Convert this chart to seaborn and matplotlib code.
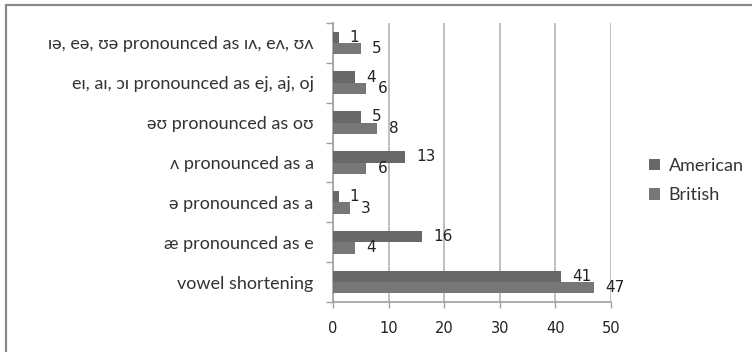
import matplotlib
matplotlib.use("Agg")
import matplotlib.pyplot as plt
import matplotlib.patches as mpatches
import seaborn as sns
import pandas as pd

# Vowel features (top to bottom) and counts per variety
features = [
    "ɪə, eə, ʊə pronounced as ɪʌ, eʌ, ʊʌ",
    "eɪ, aɪ, ɔɪ pronounced as ej, aj, oj",
    "əʊ pronounced as oʊ",
    "ʌ pronounced as a",
    "ə pronounced as a",
    "æ pronounced as e",
    "vowel shortening",
]
american = [1, 4, 5, 13, 1, 16, 41]
british = [5, 6, 8, 6, 3, 4, 47]
series = ["American", "British"]
x_ticks = [0, 10, 20, 30, 40, 50]

df = pd.DataFrame({
    "feature": features * 2,
    "count": american + british,
    "variety": [series[0]] * len(features) + [series[1]] * len(features),
})

sns.set_theme(style="white")
plt.rcParams["font.family"] = ["Lato", "DejaVu Sans"]

fig = plt.figure(figsize=(7.52, 3.52), dpi=100)
ax = fig.add_axes([333 / 752, 1 - 302 / 352, (611 - 333) / 752, (302 - 23) / 352])

palette = {"American": "#686868", "British": "#777777"}
sns.barplot(data=df, y="feature", x="count", hue="variety", order=features,
            hue_order=series, palette=palette, width=0.57, orient="h",
            saturation=1, ax=ax, zorder=3, edgecolor="none")

for cont in ax.containers:
    ax.bar_label(cont, padding=8, fontsize=11, family="DejaVu Sans",
                 color="#222222")

ax.set_xlim(0, 50)
ax.set_ylim(len(features) - 0.5, -0.5)
ax.set_xticks(x_ticks)
ax.set_xticklabels([str(v) for v in x_ticks], family="DejaVu Sans", fontsize=10.5,
                   color="#222222")
ax.set_yticks(range(len(features)))
ax.set_yticklabels(features, fontsize=13, color="#333333")
ax.set_yticks([i - 0.5 for i in range(len(features) + 1)], minor=True)
ax.tick_params(axis="y", which="major", length=0, pad=14)
ax.tick_params(axis="y", which="minor", length=5, color="#a0a0a0", width=1,
               direction="out", left=True)
ax.tick_params(axis="x", which="major", length=4, color="#a0a0a0", width=1,
               direction="out", bottom=True, pad=10)
ax.set_xlabel("")
ax.set_ylabel("")

ax.grid(axis="x", color="#b4b4b4", linewidth=1.2, zorder=0)
ax.grid(axis="y", visible=False)
for side in ["top", "right"]:
    ax.spines[side].set_visible(False)
for side in ["left", "bottom"]:
    ax.spines[side].set_color("#a0a0a0")
    ax.spines[side].set_linewidth(1.2)

leg = ax.legend(loc="center left", bbox_to_anchor=(1.11, 0.435), frameon=False,
                fontsize=13, handlelength=0.6, handleheight=0.6,
                handletextpad=0.5, labelspacing=0.75, borderaxespad=0)
for txt in leg.get_texts():
    txt.set_color("#333333")

# Chart frame (top and left edges visible)
fig.patches.append(mpatches.Rectangle((6 / 752, -0.2), 1.5, 1 - 5 / 352 + 0.2,
                                      transform=fig.transFigure, fill=False,
                                      edgecolor="#8a8a8a", linewidth=1.6))

fig.savefig("out.png", dpi=100)
